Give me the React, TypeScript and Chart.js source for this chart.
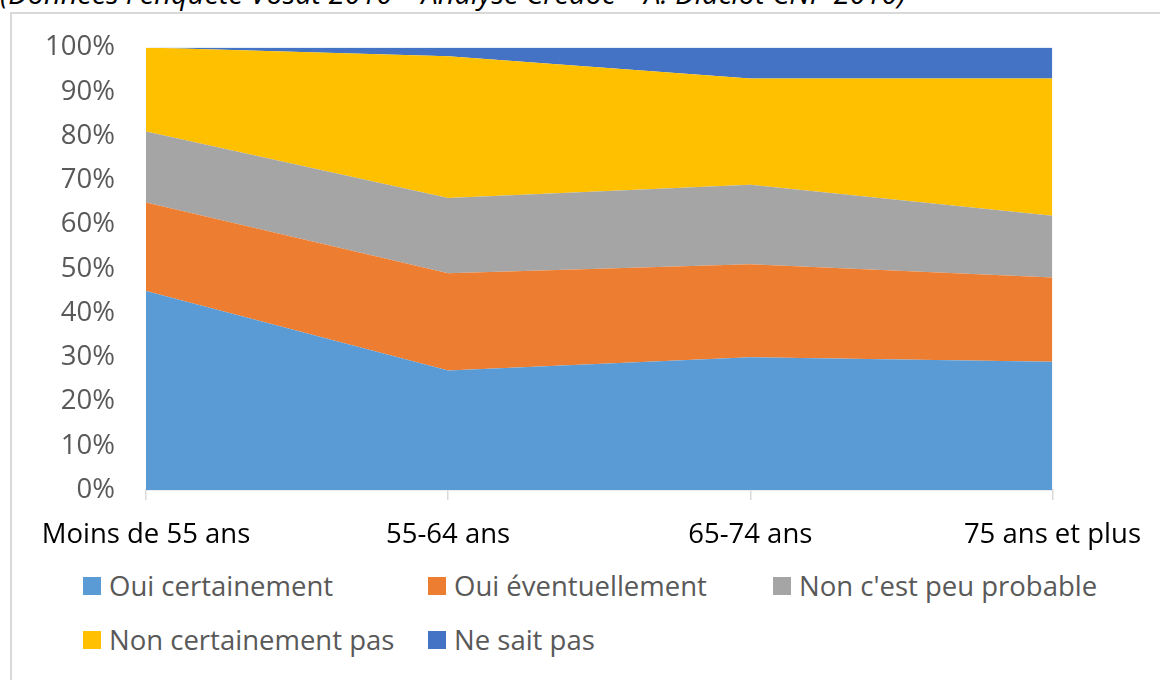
import React, { useEffect, useRef } from "react";
import { Chart, registerables } from "chart.js";

Chart.register(...registerables);

const categories = ["Moins de 55 ans", "55-64 ans", "65-74 ans", "75 ans et plus"];
const seriesNames = [
  "Oui certainement",
  "Oui éventuellement",
  "Non c'est peu probable",
  "Non certainement pas",
  "Ne sait pas",
];
const ouiCertainement = [45, 27, 30, 29];
const ouiEventuellement = [20, 22, 21, 19];
const nonPeuProbable = [16, 17, 18, 14];
const nonCertainementPas = [19, 32, 24, 31];
const neSaitPas = [0, 2, 7, 7];
const seriesColors = ["#5B9BD5", "#ED7D31", "#A5A5A5", "#FFC000", "#4472C4"];
const yTickValues = [0, 10, 20, 30, 40, 50, 60, 70, 80, 90, 100];
const sourceText = "(Données l'enquête Vosat 2010 – Analyse Crédoc – A. Diaclot CNP 2010)";

const FONT = "'Open Sans', 'DejaVu Sans', sans-serif";

export default function App() {
  const canvasRef = useRef<HTMLCanvasElement | null>(null);

  useEffect(() => {
    document.body.style.margin = "0";
    const ctx = canvasRef.current;
    if (!ctx) return;
    const values = [ouiCertainement, ouiEventuellement, nonPeuProbable, nonCertainementPas, neSaitPas];
    const chart = new Chart(ctx, {
      type: "line",
      data: {
        labels: categories,
        datasets: values.map((v, i) => ({
          label: seriesNames[i],
          data: v,
          backgroundColor: seriesColors[i],
          borderColor: seriesColors[i],
          borderWidth: 0,
          pointRadius: 0,
          pointHoverRadius: 0,
          fill: i === 0 ? "origin" : "-1",
          tension: 0,
        })),
      },
      options: {
        animation: false,
        responsive: false,
        maintainAspectRatio: false,
        layout: { padding: { top: 42, left: 0, right: 103, bottom: 0 } },
        plugins: {
          legend: { display: false },
          tooltip: { enabled: false },
          title: { display: false },
        },
        scales: {
          x: {
            offset: false,
            grid: {
              display: true,
              drawOnChartArea: false,
              drawTicks: true,
              tickLength: 10,
              color: "#d9d9d9",
              lineWidth: 1.5,
            },
            border: { display: true, color: "#d9d9d9", width: 1.5 },
            ticks: {
              color: "#000000",
              font: { family: FONT, size: 27.5 },
              padding: 19,
              maxRotation: 0,
              autoSkip: false,
            },
            afterFit: (scale: any) => {
              scale.height = 70;
            },
          },
          y: {
            stacked: true,
            min: 0,
            max: 100,
            grid: { display: false, drawTicks: false },
            border: { display: false },
            afterBuildTicks: (scale: any) => {
              scale.ticks = yTickValues.map((v) => ({ value: v }));
            },
            ticks: {
              color: "#595959",
              font: { family: FONT, size: 27.5 },
              padding: 31,
              callback: (v: any) => v + "%",
            },
            afterFit: (scale: any) => {
              scale.width = 146;
            },
          },
        },
      },
    });
    return () => chart.destroy();
  }, []);

  const legendRows = [
    [0, 1, 2],
    [3, 4],
  ];

  return (
    <div
      style={{
        position: "fixed",
        left: 0,
        top: 0,
        width: 1160,
        height: 680,
        overflow: "hidden",
        background: "#ffffff",
        fontFamily: FONT,
      }}
    >
      <div
        style={{
          position: "absolute",
          left: 0,
          top: -22,
          whiteSpace: "nowrap",
          fontStyle: "italic",
          fontSize: 29,
          lineHeight: "29px",
          color: "#000000",
        }}
      >
        {sourceText}
      </div>
      <div
        style={{
          position: "absolute",
          left: 10,
          top: 12,
          width: 1200,
          height: 720,
          border: "2px solid #d9d9d9",
          boxSizing: "border-box",
          background: "#ffffff",
        }}
      />
      <canvas
        ref={canvasRef}
        width={1160}
        height={560}
        style={{ position: "absolute", left: 0, top: 0, width: 1160, height: 560 }}
      />
      {legendRows.map((row, r) => (
        <div
          key={r}
          style={{
            position: "absolute",
            left: 83,
            top: 586 + r * 54 - 20,
            height: 40,
            display: "flex",
            alignItems: "center",
          }}
        >
          {row.map((idx) => (
            <div
              key={idx}
              style={{ width: 345, display: "flex", alignItems: "center", whiteSpace: "nowrap" }}
            >
              <span
                style={{
                  display: "inline-block",
                  width: 18,
                  height: 18,
                  background: seriesColors[idx],
                  marginRight: 8,
                }}
              />
              <span style={{ fontSize: 27.5, color: "#595959", lineHeight: "40px" }}>
                {seriesNames[idx]}
              </span>
            </div>
          ))}
        </div>
      ))}
    </div>
  );
}
